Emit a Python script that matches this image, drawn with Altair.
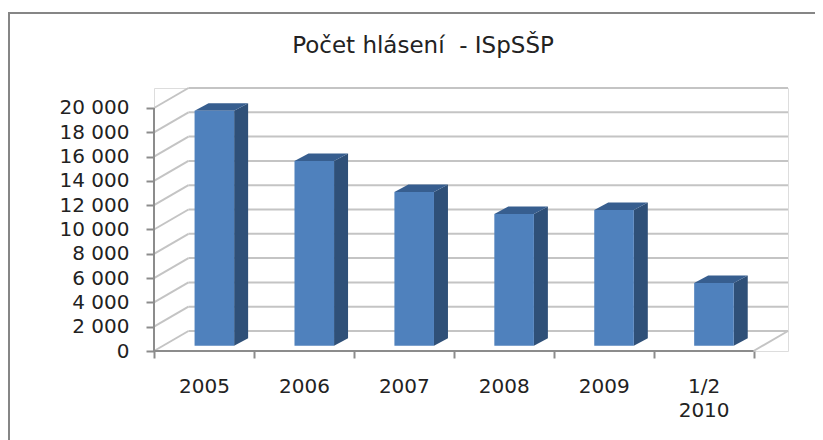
import altair as alt
import pandas as pd

title_text = "Počet hlásení \u00a0- ISpSŠP"
categories = ["2005", "2006", "2007", "2008", "2009", ["1/2", "2010"], ""]
values = [19340, 15200, 12650, 10840, 11170, 5160]
grid_values = list(range(0, 20001, 2000))

# Oblique projection, in units of the two scales
WALL_X = 0.345      # one category = 1 unit
WALL_Y = 1646
BAR_LEFT = 0.406
BAR_WIDTH = 0.396
BAR_BASE = 436
BAR_DX = 0.14
BAR_DY = 617
XMAX = 6 + WALL_X
YMAX = 20000 + WALL_Y

W, H = 634, 263
FRAME = "#868686"
GRID = "#c4c4c4"
AXIS = "#8c8c8c"
FONT = "DejaVu Sans"

xs = alt.Scale(domain=[0, XMAX], nice=False, zero=False)
ys = alt.Scale(domain=[0, YMAX], nice=False, zero=False)

labels_js = str(categories).replace('"', "'")
x_axis = alt.Axis(
    values=list(range(7)), title=None, grid=False, domain=False,
    tickColor=AXIS, tickWidth=2, tickSize=7, labelPadding=18,
    labelOffset=50, labelAlign="center", labelBaseline="top", labelFlush=False,
    labelBound=False, labelOverlap=False, labelFont=FONT, labelFontSize=20,
    labelColor="#222222", labelLineHeight=24,
    labelExpr=f"{labels_js}[datum.value]",
)
y_axis = alt.Axis(
    values=grid_values, title=None, grid=False, domain=False,
    tickColor=AXIS, tickWidth=2, tickSize=8, labelPadding=17,
    labelFont=FONT, labelFontSize=20, labelColor="#222222", labelOverlap=False,
    labelBound=False, labelFlush=False,
    labelExpr="replace(format(datum.value, ','), ',', ' ')",
)

X = lambda f: alt.X(f"{f}:Q", scale=xs, axis=x_axis)
Y = lambda f: alt.Y(f"{f}:Q", scale=ys, axis=y_axis, stack=None)

# wall grid
wall = pd.DataFrame({"x": 0 * pd.Series(grid_values) + WALL_X, "x2": XMAX,
                     "y": [v + WALL_Y for v in grid_values]})
wall_l = alt.Chart(wall).mark_rule(color=GRID, strokeWidth=2).encode(x=X("x"), x2="x2:Q", y=Y("y"))

diag_rows = []
for v in grid_values:
    diag_rows += [dict(g=v, x=0, y=v), dict(g=v, x=WALL_X, y=v + WALL_Y)]
diag_rows += [dict(g=-1, x=6, y=0), dict(g=-1, x=XMAX, y=WALL_Y)]
diag = alt.Chart(pd.DataFrame(diag_rows)).mark_line(color=GRID, strokeWidth=2).encode(
    x=X("x"), y=Y("y"), detail="g:N")

# axis lines
x_line = alt.Chart(pd.DataFrame({"x": [0], "x2": [6], "y": [0]})).mark_rule(
    color=AXIS, strokeWidth=2).encode(x=X("x"), x2="x2:Q", y=Y("y"))
y_line = alt.Chart(pd.DataFrame({"x": [0], "y": [0], "y2": [20000]})).mark_rule(
    color=AXIS, strokeWidth=2).encode(x=X("x"), y=Y("y"), y2="y2:Q")

# bars
front, side, top = [], [], []
for i, v in enumerate(values):
    l = i + BAR_LEFT
    r = l + BAR_WIDTH
    t = BAR_BASE + v
    front.append(dict(x=l, x2=r, y=BAR_BASE, y2=t))
    side += [dict(g=i, x=r, y=t, y2=BAR_BASE),
             dict(g=i, x=r + BAR_DX, y=t + BAR_DY, y2=BAR_BASE + BAR_DY)]
    top += [dict(g=i, y=t, x=l, x2=r),
            dict(g=i, y=t + BAR_DY, x=l + BAR_DX, x2=r + BAR_DX)]

front_m = alt.Chart(pd.DataFrame(front)).mark_rect(color="#4f81bd").encode(
    x=X("x"), x2="x2:Q", y=Y("y"), y2="y2:Q")
side_m = alt.Chart(pd.DataFrame(side)).mark_area(color="#2f5078", orient="vertical").encode(
    x=X("x"), y=Y("y"), y2="y2:Q", detail="g:N")
top_m = alt.Chart(pd.DataFrame(top)).mark_area(color="#375e8f", orient="horizontal").encode(
    y=Y("y"), x=X("x"), x2="x2:Q", detail="g:N")

# outer frame (left and top edges), placed relative to the plot area
frame_l = alt.Chart(pd.DataFrame({"a": [0]})).mark_rule(color=FRAME, strokeWidth=2).encode(
    x=alt.value(-145), y=alt.value(-75), y2=alt.value(H + 90))
frame_t = alt.Chart(pd.DataFrame({"a": [0]})).mark_rule(color=FRAME, strokeWidth=2).encode(
    x=alt.value(-146), x2=alt.value(W + 40), y=alt.value(-75))

# title as a text mark inside the layer, so the frame does not push it out of the page
title_m = alt.Chart(pd.DataFrame({"t": [title_text]})).mark_text(
    font=FONT, fontSize=23, color="#222222", align="center", baseline="alphabetic",
).encode(x=alt.value(269), y=alt.value(-35), text="t:N")

chart = alt.layer(
    frame_l, frame_t, wall_l, diag, side_m, top_m, front_m, x_line, y_line, title_m
).properties(
    width=W, height=H,
    padding={"left": 146, "top": 80, "right": 27, "bottom": 90},
    autosize=alt.AutoSizeParams(type="none"),
).configure_view(stroke=None).configure(background="white")

chart.save("out.html", embed_options={"renderer": "svg", "actions": False})
